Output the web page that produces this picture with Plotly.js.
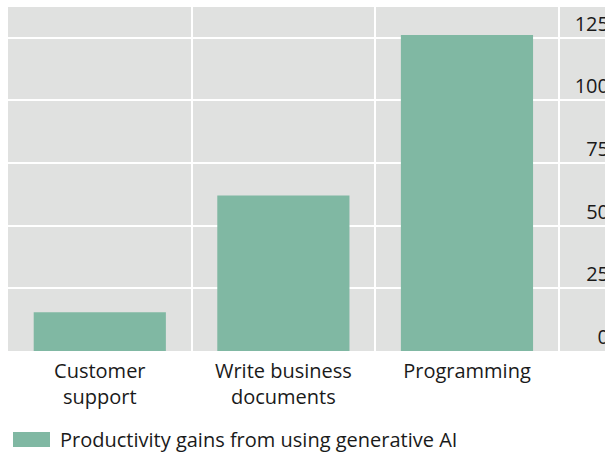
<!DOCTYPE html>
<html>
<head>
<meta charset="utf-8">
<script src="https://cdn.plot.ly/plotly-3.0.1.min.js"></script>
<style>
html,body{margin:0;padding:0;overflow:hidden;background:#fff;}
#chart{width:612px;height:452px;}
</style>
</head>
<body>
<div id="chart"></div>
<script>
const categories = ["Customer<br>support", "Write business<br>documents", "Programming"];
const gains = [15.5, 62, 126];
const seriesName = "Productivity gains from using generative AI";
const yTicks = [0, 25, 50, 75, 100, 125];

const FONT = "Open Sans, Noto Sans, sans-serif";
const FS = 20;
const trace = {
  type: "bar",
  x: categories,
  y: gains,
  name: seriesName,
  marker: {color: "#80b8a3"},
  showlegend: true,
  hoverinfo: "x+y"
};
const layout = {
  width: 612, height: 452,
  margin: {l: 8, r: 0, t: 7, b: 101, pad: 0},
  paper_bgcolor: "#ffffff",
  plot_bgcolor: "#e0e1e0",
  bargap: 0.28,
  font: {family: FONT, size: FS, color: "#1a1a1a"},
  xaxis: {
    type: "category",
    range: [-0.5, 2.79],
    tickson: "boundaries",
    showgrid: true, gridcolor: "#ffffff", gridwidth: 2,
    ticks: "", zeroline: false, showline: false,
    ticklabelstandoff: 6,
    automargin: false,
    tickfont: {family: FONT, size: FS, color: "#1a1a1a"}
  },
  yaxis: {
    side: "right",
    range: [0, 137.2],
    tickvals: yTicks,
    ticktext: yTicks.map(String),
    ticklabelposition: "inside top",
    showgrid: true, gridcolor: "#ffffff", gridwidth: 2,
    zeroline: false, showline: false, ticks: "",
    automargin: false,
    tickfont: {family: FONT, size: FS, color: "#1a1a1a"}
  },
  showlegend: true,
  legend: {
    orientation: "h",
    xref: "container", yref: "container",
    x: 20 / 612, xanchor: "left",
    y: (452 - 439) / 452, yanchor: "middle",
    font: {family: FONT, size: FS, color: "#1a1a1a"},
    bgcolor: "rgba(0,0,0,0)"
  },
  shapes: [{
    type: "rect", xref: "paper", yref: "paper", layer: "above",
    x0: (13 - 8) / 604, x1: (50 - 8) / 604,
    y0: -(432 - 351) / 344, y1: -(447 - 351) / 344,
    fillcolor: "#80b8a3", line: {width: 0}
  }]
};
Plotly.newPlot("chart", [trace], layout, {displayModeBar: false, staticPlot: true});
</script>
</body>
</html>
